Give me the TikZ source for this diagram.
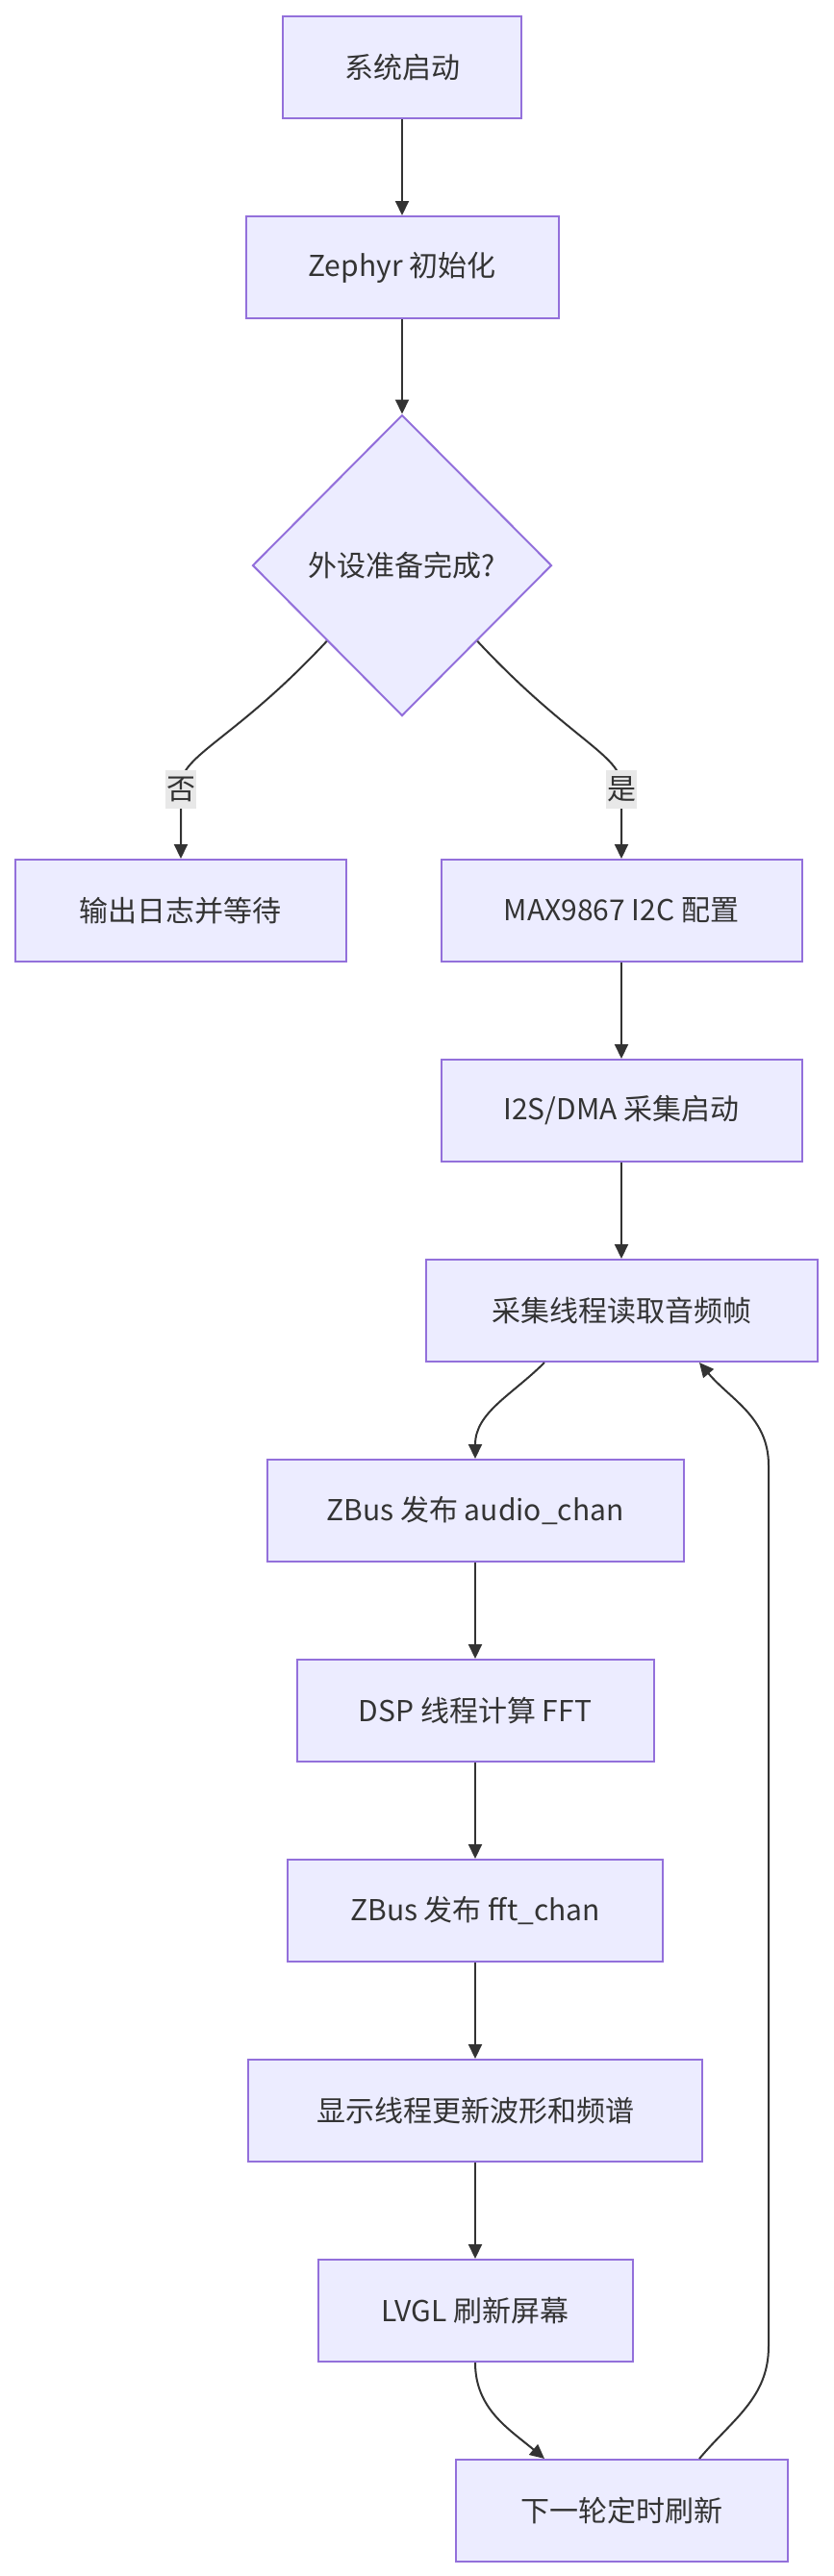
\documentclass[tikz,border=0pt]{standalone}
\usepackage{fontspec}
\setmainfont{Noto Sans CJK SC}
\usetikzlibrary{shapes.geometric,arrows.meta,positioning}
\definecolor{boxfill}{HTML}{ECECFF}
\definecolor{boxline}{HTML}{9370DB}
\definecolor{edgeline}{HTML}{333333}
\definecolor{lblfill}{HTML}{E8E8E8}

\begin{document}
\begin{tikzpicture}[node distance=104pt,>={Triangle[length=7.5pt,width=7pt]},
        box/.style={draw=boxline, fill=boxfill, line width=1pt, rectangle, minimum height=53pt, text=edgeline, font=\fontsize{15pt}{18pt}\selectfont},
        dec/.style={draw=boxline, fill=boxfill, line width=1pt, diamond, aspect=1, inner sep=0pt, minimum width=155.5pt, minimum height=156.5pt, text=edgeline, font=\fontsize{15pt}{18pt}\selectfont},
        lbl/.style={fill=lblfill, text=edgeline, inner xsep=0.5pt, inner ysep=3.5pt, font=\fontsize{15pt}{18pt}\selectfont},
        flow/.style={->, draw=edgeline, line width=1pt}]
        \useasboundingbox (0,0) rectangle (433.5pt,-1339.5pt);
        \node (boot) [box, minimum width=124pt] at (209pt,-35pt) {系统启动};
        \node (zephyr) [box, below of=boot, minimum width=162.5pt] {Zephyr 初始化};
        \node (ready) [dec, node distance=155pt, below of=zephyr] {外设准备完成?};
        \node (waitlog) [box, node distance=179.5pt, below of=ready, xshift=-115pt, minimum width=172pt] {输出日志并等待};
        \node (codec) [box, node distance=179.5pt, below of=ready, xshift=114pt, minimum width=187.5pt] {MAX9867 I2C 配置};
        \node (i2s) [box, below of=codec, minimum width=187.5pt] {I2S/DMA 采集启动};
        \node (capture) [box, below of=i2s, minimum width=203.5pt] {采集线程读取音频帧};
        \node (audio) [box, below of=capture, xshift=-76pt, minimum width=216.5pt] {ZBus 发布 audio\_chan};
        \node (dsp) [box, below of=audio, minimum width=185.5pt] {DSP 线程计算 FFT};
        \node (fft) [box, below of=dsp, minimum width=195pt] {ZBus 发布 fft\_chan};
        \node (display) [box, below of=fft, minimum width=236pt] {显示线程更新波形和频谱};
        \node (lvgl) [box, below of=display, minimum width=163.5pt] {LVGL 刷新屏幕};
        \node (next) [box, below of=lvgl, xshift=76pt, minimum width=172.5pt] {下一轮定时刷新};
        \coordinate (loopb) at (399.5pt,-1220pt);
        \coordinate (loopt) at (399.5pt,-762pt);

        \draw[flow] (boot) -- (zephyr);
        \draw[flow] (zephyr) -- (ready);
        \draw[flow] (ready.south west) .. controls +(-133:70pt) and +(90:16pt) .. ([yshift=38pt]waitlog.north) -- node[lbl, pos=0.05] {否} (waitlog.north);
        \draw[flow] (ready.south east) .. controls +(-47:70pt) and +(90:16pt) .. ([yshift=38pt]codec.north) -- node[lbl, pos=0.05] {是} (codec.north);
        \draw[flow] (codec) -- (i2s);
        \draw[flow] (i2s) -- (capture);
        \draw[flow] ([xshift=-40pt]capture.south) to[out=-135,in=90] (audio.north);
        \draw[flow] (audio) -- (dsp);
        \draw[flow] (dsp) -- (fft);
        \draw[flow] (fft) -- (display);
        \draw[flow] (display) -- (lvgl);
        \draw[flow] (lvgl.south) to[out=-90,in=140] ([xshift=-40pt]next.north);
        \draw[flow] ([xshift=40.5pt]next.north) to[out=50,in=-90] (loopb) -- (loopt) to[out=90,in=-50] ([xshift=40.5pt]capture.south);
    \end{tikzpicture}
\end{document}
